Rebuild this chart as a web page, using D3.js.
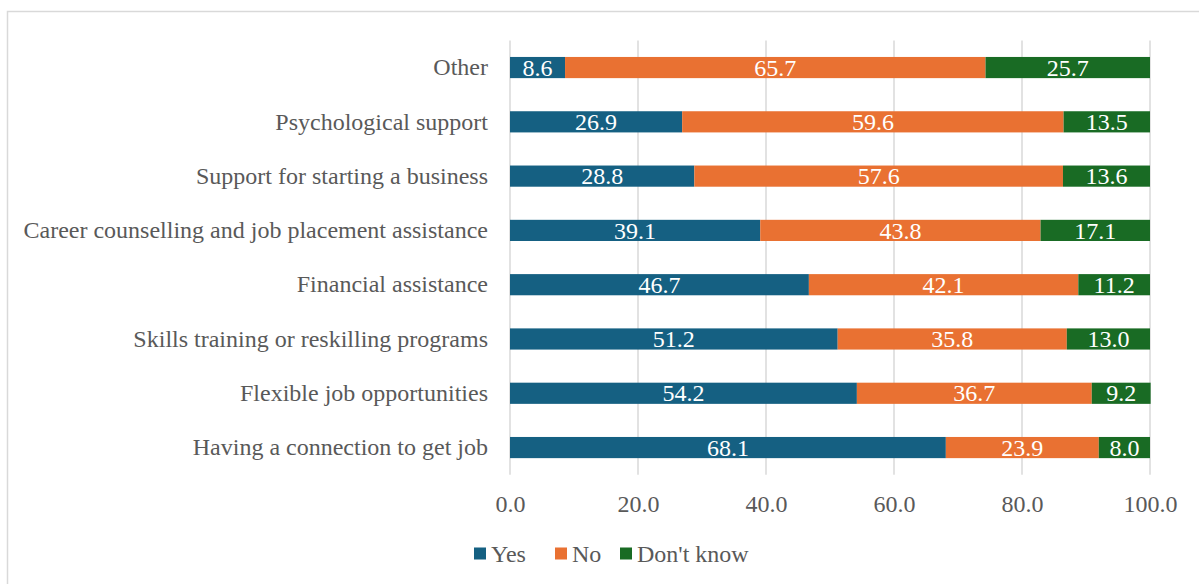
<!DOCTYPE html>
<html>
<head>
<meta charset="utf-8">
<script src="https://cdn.jsdelivr.net/npm/d3@7"></script>
<style>
  html, body { margin: 0; padding: 0; background: #fff; }
  svg { display: block; }
  svg text { font-family: "Liberation Serif", "Times New Roman", Times, serif; }
</style>
</head>
<body>
<svg id="chart" width="1199" height="584"></svg>
<script>
// Support types, listed top to bottom
const categories = [
  "Other",
  "Psychological support",
  "Support for starting a business",
  "Career counselling and job placement assistance",
  "Financial assistance",
  "Skills training or reskilling programs",
  "Flexible job opportunities",
  "Having a connection to get job"
];
const seriesNames = ["Yes", "No", "Don't know"];
const yesValues = [8.6, 26.9, 28.8, 39.1, 46.7, 51.2, 54.2, 68.1];
const noValues = [65.7, 59.6, 57.6, 43.8, 42.1, 35.8, 36.7, 23.9];
const dontKnowValues = [25.7, 13.5, 13.6, 17.1, 11.2, 13.0, 9.2, 8.0];
const tickValues = [0, 20, 40, 60, 80, 100];
const colors = ["#156082", "#E97132", "#196B24"];

const svg = d3.select("#chart");
const textGray = "#595959";

// chart frame
svg.append("rect")
  .attr("x", 7.5).attr("y", 11.5)
  .attr("width", 1300).attr("height", 700)
  .attr("fill", "none").attr("stroke", "#d9d9d9").attr("stroke-width", 1.5);

const x = d3.scaleLinear().domain([0, 100]).range([510, 1150]);
const y = d3.scaleBand().domain(categories).range([40.4, 474.7])
  .paddingInner(0.61).paddingOuter(0.305);

// vertical gridlines
svg.append("g").selectAll("line").data(tickValues).join("line")
  .attr("x1", d => x(d)).attr("x2", d => x(d))
  .attr("y1", 40.4).attr("y2", 474.7)
  .attr("stroke", "#d9d9d9").attr("stroke-width", 1.5);

// stacked rows
const rows = categories.map((c, i) => ({ cat: c, Yes: yesValues[i], No: noValues[i], "Don't know": dontKnowValues[i] }));
const stacked = d3.stack().keys(seriesNames)(rows);

const layers = svg.append("g").selectAll("g").data(stacked).join("g")
  .attr("fill", (d, i) => colors[i]);

layers.selectAll("rect").data(d => d).join("rect")
  .attr("x", d => x(d[0]))
  .attr("y", d => y(d.data.cat))
  .attr("width", d => x(d[1]) - x(d[0]))
  .attr("height", y.bandwidth());

// value labels inside segments
layers.each(function(layer) {
  d3.select(this).selectAll("text").data(layer).join("text")
    .attr("x", d => (x(d[0]) + x(d[1])) / 2)
    .attr("y", d => y(d.data.cat) + y.bandwidth() / 2)
    .attr("dy", "0.34em")
    .attr("text-anchor", "middle")
    .attr("fill", "#fff")
    .attr("font-size", 24)
    .text(d => d.data[layer.key].toFixed(1));
});

// category labels
const yAxis = d3.axisLeft(y).tickSize(0).tickPadding(22);
const gy = svg.append("g").attr("transform", `translate(${x(0)},0)`).call(yAxis);
gy.select(".domain").remove();
gy.attr("font-family", null);
gy.selectAll("text").attr("font-size", 24).attr("fill", textGray);

// value axis labels
const xAxis = d3.axisBottom(x).tickValues(tickValues).tickSize(0).tickPadding(0)
  .tickFormat(d3.format(".1f"));
const gx = svg.append("g").attr("transform", "translate(0,474.7)").call(xAxis);
gx.select(".domain").remove();
gx.attr("font-family", null);
gx.selectAll("text")
  .attr("font-size", 24).attr("fill", textGray)
  .attr("dy", null).attr("y", 37.3);

// legend
const legendItems = [
  { name: seriesNames[0], sx: 474, tx: 491 },
  { name: seriesNames[1], sx: 555, tx: 572 },
  { name: seriesNames[2], sx: 620, tx: 637 }
];
const legend = svg.append("g");
legendItems.forEach((it, i) => {
  legend.append("rect")
    .attr("x", it.sx).attr("y", 547.5).attr("width", 12).attr("height", 12)
    .attr("fill", colors[i]);
  legend.append("text")
    .attr("x", it.tx).attr("y", 562)
    .attr("font-size", 24).attr("fill", textGray)
    .text(it.name);
});
</script>
</body>
</html>
